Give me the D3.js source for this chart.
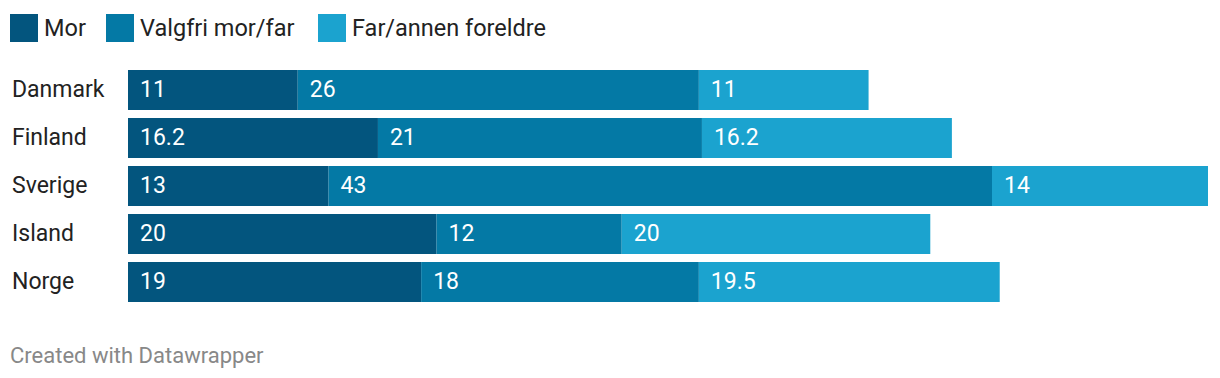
<!DOCTYPE html>
<html>
<head>
<meta charset="utf-8">
<script src="https://cdn.jsdelivr.net/npm/d3@7"></script>
<style>
  body { margin: 0; background: #fff; font-family: Roboto, "Noto Sans", sans-serif; }
</style>
</head>
<body>
<div id="chart"></div>
<script>
var countries = ["Danmark", "Finland", "Sverige", "Island", "Norge"];
var series = ["Mor", "Valgfri mor/far", "Far/annen foreldre"];
var mor = [11, 16.2, 13, 20, 19];
var valgfri = [26, 21, 43, 12, 18];
var far = [11, 16.2, 14, 20, 19.5];
var colors = ["#03557e", "#0479a5", "#1ba3cf"];

var width = 1220, height = 378;
var margin = { top: 70, left: 128, right: 12 };

var svg = d3.select("#chart")
  .append("svg")
  .attr("width", width)
  .attr("height", height);

var rows = countries.map(function (c, i) {
  return { country: c, "Mor": mor[i], "Valgfri mor/far": valgfri[i], "Far/annen foreldre": far[i] };
});
var stacked = d3.stack().keys(series)(rows);

var x = d3.scaleLinear()
  .domain([0, d3.max(rows, function (d) { return d["Mor"] + d["Valgfri mor/far"] + d["Far/annen foreldre"]; })])
  .range([margin.left, width - margin.right]);

var y = d3.scaleBand()
  .domain(countries)
  .range([margin.top - 4, margin.top - 4 + 48 * countries.length])
  .paddingInner(8 / 48)
  .paddingOuter(4 / 48);

var color = d3.scaleOrdinal().domain(series).range(colors);

// legend
var legendX = [10, 106, 318];
var legend = svg.append("g").selectAll("g")
  .data(series)
  .enter()
  .append("g")
  .attr("transform", function (d, i) { return "translate(" + legendX[i] + ",14)"; });
legend.append("rect")
  .attr("width", 28)
  .attr("height", 28)
  .attr("fill", function (d) { return color(d); });
legend.append("text")
  .attr("x", 34)
  .attr("y", 22)
  .attr("fill", "#222")
  .style("font-size", "23.5px")
  .text(function (d) { return d; });

// country labels
svg.append("g").selectAll("text")
  .data(countries)
  .enter()
  .append("text")
  .attr("x", 12)
  .attr("y", function (d) { return y(d) + y.bandwidth() / 2 + 7; })
  .attr("fill", "#222")
  .style("font-size", "23px")
  .text(function (d) { return d; });

// bars
var layers = svg.append("g").selectAll("g")
  .data(stacked)
  .enter()
  .append("g")
  .attr("fill", function (d) { return color(d.key); });

layers.selectAll("rect")
  .data(function (d) { return d; })
  .enter()
  .append("rect")
  .attr("x", function (d) { return x(d[0]); })
  .attr("y", function (d) { return y(d.data.country); })
  .attr("width", function (d) { return x(d[1]) - x(d[0]); })
  .attr("height", y.bandwidth());

layers.selectAll("text")
  .data(function (s) { return s.map(function (p) { return { p: p, v: p.data[s.key] }; }); })
  .enter()
  .append("text")
  .attr("x", function (d) { return x(d.p[0]) + 12; })
  .attr("y", function (d) { return y(d.p.data.country) + y.bandwidth() / 2 + 7; })
  .attr("fill", "#fff")
  .style("font-size", "23px")
  .text(function (d) { return d.v; });

// footer
svg.append("text")
  .attr("x", 10)
  .attr("y", 363)
  .attr("fill", "#888")
  .style("font-size", "22px")
  .text("Created with Datawrapper");
</script>
</body>
</html>
